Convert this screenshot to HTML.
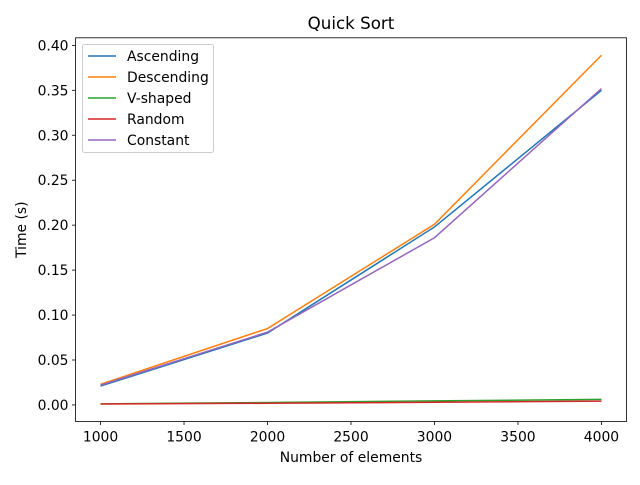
<!DOCTYPE html>
<html><head><meta charset="utf-8"><style>
body{margin:0;background:#fff}
text{font-family:"DejaVu Sans","Liberation Sans",sans-serif;fill:#000}
</style></head><body>
<svg id="c" width="640" height="480" xmlns="http://www.w3.org/2000/svg"></svg>
<script>
const categories=[1000,2000,3000,4000];
const seriesNames=["Ascending","Descending","V-shaped","Random","Constant"];
const ascending=[0.021,0.080,0.198,0.350];
const descending=[0.023,0.085,0.201,0.389];
const vshaped=[0.0012,0.0027,0.0045,0.0062];
const random=[0.0010,0.0019,0.0030,0.0042];
const constant=[0.022,0.081,0.186,0.352];
const xTicks=[1000,1500,2000,2500,3000,3500,4000];
const yTicks=[0,0.05,0.10,0.15,0.20,0.25,0.30,0.35,0.40];
const colors=["#1f77b4","#ff7f0e","#2ca02c","#d62728","#9467bd"];
const allSeries=[ascending,descending,vshaped,random,constant];
const NS="http://www.w3.org/2000/svg";
const svg=document.getElementById('c');
const L=75.5,R=626.5,T=37.8,B=421.5;
const xmin=850,xmax=4150;
let ylo=Infinity,yhi=-Infinity;allSeries.forEach(s=>s.forEach(v=>{ylo=Math.min(ylo,v);yhi=Math.max(yhi,v)}));
const pad=(yhi-ylo)*0.05;const ymin=ylo-pad,ymax=yhi+pad;
const X=v=>L+(v-xmin)/(xmax-xmin)*(R-L);
const Y=v=>B-(v-ymin)/(ymax-ymin)*(B-T);
function el(t,a,txt){const e=document.createElementNS(NS,t);for(const k in a)e.setAttribute(k,a[k]);if(txt!==undefined)e.textContent=txt;svg.appendChild(e);return e;}
allSeries.forEach((s,i)=>{
 const p=el('polyline',{points:s.map((v,j)=>X(categories[j])+','+Y(v)).join(' '),fill:'none',stroke:colors[i],'stroke-width':1.5});
 
 
});
const ax=el('rect',{x:L,y:T,width:R-L,height:B-T,fill:'none',stroke:'#000','stroke-width':0.8});


xTicks.forEach(t=>{
 el('line',{x1:X(t),x2:X(t),y1:B,y2:B+3.5,stroke:'#000','stroke-width':0.8});
 const tx=el('text',{x:X(t),y:B+20,'text-anchor':'middle','font-size':13.9},String(t));
 
 
});
yTicks.forEach(t=>{
 el('line',{x1:L-3.5,x2:L,y1:Y(t),y2:Y(t),stroke:'#000','stroke-width':0.8});
 const tx=el('text',{x:L-7,y:Y(t)+5,'text-anchor':'end','font-size':13.9},t.toFixed(2));
 
 
});
const xt=el('text',{x:(L+R)/2,y:462,'text-anchor':'middle','font-size':13.9},'Number of elements');


const yt=el('text',{x:0,y:0,'text-anchor':'middle','font-size':13.9,transform:'translate(26,'+((T+B)/2)+') rotate(-90)'},'Time (s)');


const tt=el('text',{x:(L+R)/2,y:29,'text-anchor':'middle','font-size':16.7},'Quick Sort');


const lg=el('rect',{x:82.5,y:44.5,width:131,height:108,fill:'#fff','fill-opacity':0.8,stroke:'#ccc',rx:2});


seriesNames.forEach((n,i)=>{
 const y=56+i*21;
 el('line',{x1:88,x2:116,y1:y,y2:y,stroke:colors[i],'stroke-width':1.5});
 const t=el('text',{x:127,y:y+5,'font-size':13.9},n);
 
 
});
</script>
</body></html>
